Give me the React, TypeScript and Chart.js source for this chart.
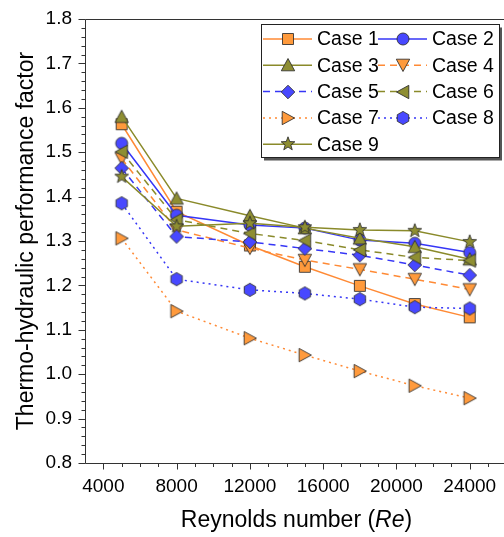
import React, { useEffect, useRef } from "react";
import { Chart, registerables } from "chart.js";

Chart.register(...registerables);

// ---------- data ----------
const reynolds = [5000, 8000, 12000, 15000, 18000, 21000, 24000];
const case1 = [1.563, 1.366, 1.29, 1.242, 1.199, 1.158, 1.128];
const case2 = [1.52, 1.358, 1.336, 1.329, 1.302, 1.295, 1.274];
const case3 = [1.58, 1.396, 1.357, 1.329, 1.306, 1.287, 1.259];
const case4 = [1.486, 1.325, 1.284, 1.257, 1.236, 1.214, 1.191];
const case5 = [1.464, 1.31, 1.298, 1.283, 1.268, 1.246, 1.223];
const case6 = [1.501, 1.348, 1.317, 1.301, 1.28, 1.263, 1.256];
const case7 = [1.306, 1.142, 1.081, 1.043, 1.007, 0.974, 0.946];
const case8 = [1.385, 1.214, 1.19, 1.182, 1.169, 1.151, 1.148];
const case9 = [1.445, 1.333, 1.34, 1.331, 1.325, 1.323, 1.298];

const seriesNames = ["Case 1", "Case 2", "Case 3", "Case 4", "Case 5", "Case 6", "Case 7", "Case 8", "Case 9"];
const seriesValues = [case1, case2, case3, case4, case5, case6, case7, case8, case9];

const xTickValues = [4000, 8000, 12000, 16000, 20000, 24000];
const yTickValues = [0.8, 0.9, 1.0, 1.1, 1.2, 1.3, 1.4, 1.5, 1.6, 1.7, 1.8];
const xTitleParts = ["Reynolds number (", "Re", ")"];
const yTitle = "Thermo-hydraulic performance factor";

// ---------- styles ----------
const FONT = '"Liberation Sans", Arial, Helvetica, sans-serif';
const ORANGE_LINE = "#ff8a35";
const ORANGE_FILL = "#ff9a3c";
const BLUE_LINE = "#3636f6";
const BLUE_FILL = "#4848ff";
const OLIVE_LINE = "#8a8a2a";
const OLIVE_FILL = "#8e8e32";
const SOLID: number[] = [];
const DASHED = [7, 5];
const DOTTED = [2, 4];

const seriesStyles = [
  { line: ORANGE_LINE, fill: ORANGE_FILL, dash: SOLID, shape: "square" },
  { line: BLUE_LINE, fill: BLUE_FILL, dash: SOLID, shape: "circle" },
  { line: OLIVE_LINE, fill: OLIVE_FILL, dash: SOLID, shape: "up" },
  { line: ORANGE_LINE, fill: ORANGE_FILL, dash: DASHED, shape: "down" },
  { line: BLUE_LINE, fill: BLUE_FILL, dash: DASHED, shape: "diamond" },
  { line: OLIVE_LINE, fill: OLIVE_FILL, dash: DASHED, shape: "left" },
  { line: ORANGE_LINE, fill: ORANGE_FILL, dash: DOTTED, shape: "right" },
  { line: BLUE_LINE, fill: BLUE_FILL, dash: DOTTED, shape: "hexagon" },
  { line: OLIVE_LINE, fill: OLIVE_FILL, dash: SOLID, shape: "star" },
];

function makeMarker(shape: string, fill: string): HTMLCanvasElement {
  const S = 18;
  const c = S / 2;
  const cv = document.createElement("canvas");
  cv.width = S;
  cv.height = S;
  const ctx = cv.getContext("2d")!;
  const poly = (pts: number[][]) => {
    ctx.moveTo(c + pts[0][0], c + pts[0][1]);
    for (let i = 1; i < pts.length; i++) ctx.lineTo(c + pts[i][0], c + pts[i][1]);
    ctx.closePath();
  };
  ctx.beginPath();
  switch (shape) {
    case "square":
      ctx.rect(c - 5.5, c - 5.5, 11, 11);
      break;
    case "circle":
      ctx.arc(c, c, 6, 0, Math.PI * 2);
      break;
    case "up":
      poly([[0, -6.5], [-6.7, 5.8], [6.7, 5.8]]);
      break;
    case "down":
      poly([[0, 6.5], [-6.7, -5.8], [6.7, -5.8]]);
      break;
    case "left":
      poly([[-6.5, 0], [5.8, -6.7], [5.8, 6.7]]);
      break;
    case "right":
      poly([[6.5, 0], [-5.8, -6.7], [-5.8, 6.7]]);
      break;
    case "diamond":
      poly([[0, -6.8], [6.8, 0], [0, 6.8], [-6.8, 0]]);
      break;
    case "hexagon": {
      const pts: number[][] = [];
      for (let k = 0; k < 6; k++) {
        const a = -Math.PI / 2 + (k * Math.PI) / 3;
        pts.push([6.6 * Math.cos(a), 6.6 * Math.sin(a)]);
      }
      poly(pts);
      break;
    }
    case "star": {
      const pts: number[][] = [];
      for (let k = 0; k < 10; k++) {
        const a = -Math.PI / 2 + (k * Math.PI) / 5;
        const r = k % 2 === 0 ? 7.2 : 3;
        pts.push([r * Math.cos(a), r * Math.sin(a)]);
      }
      poly(pts);
      break;
    }
  }
  ctx.fillStyle = fill;
  ctx.fill();
  ctx.lineWidth = 1;
  ctx.strokeStyle = "rgba(45,45,45,0.85)";
  ctx.stroke();
  return cv;
}

const decorPlugin = {
  id: "decor",
  afterDraw(chart: any) {
    const { ctx, chartArea } = chart;
    const xs = chart.scales.x;
    const ys = chart.scales.y;
    ctx.save();
    ctx.strokeStyle = "#333";
    ctx.lineWidth = 1;
    // frame: left, bottom, top
    ctx.beginPath();
    const L = Math.round(chartArea.left) + 0.5;
    const B = Math.round(chartArea.bottom) + 0.5;
    const T = Math.round(chartArea.top) + 0.5;
    ctx.moveTo(L, T);
    ctx.lineTo(L, B);
    ctx.lineTo(chartArea.right, B);
    ctx.moveTo(L, T);
    ctx.lineTo(chartArea.right, T);
    ctx.stroke();
    // x ticks
    ctx.beginPath();
    for (let v = 4000; v <= 25000; v += 1000) {
      const px = Math.round(xs.getPixelForValue(v)) + 0.5;
      const major = xTickValues.includes(v);
      ctx.moveTo(px, B);
      ctx.lineTo(px, B + (major ? 6 : 3.5));
    }
    // y ticks
    for (let i = 0; i <= 50; i++) {
      const v = 0.8 + i * 0.02;
      const py = Math.round(ys.getPixelForValue(v)) + 0.5;
      const major = i % 5 === 0;
      ctx.moveTo(L, py);
      ctx.lineTo(L - (major ? 7 : 4), py);
    }
    ctx.stroke();

    // axis titles
    ctx.fillStyle = "#000";
    ctx.font = `23px ${FONT}`;
    ctx.textBaseline = "middle";
    ctx.save();
    ctx.translate(27, 241);
    ctx.rotate(-Math.PI / 2);
    ctx.textAlign = "center";
    ctx.fillText(yTitle, 0, 0);
    ctx.restore();

    const fonts = [`23px ${FONT}`, `italic 23px ${FONT}`, `23px ${FONT}`];
    let total = 0;
    const widths = xTitleParts.map((p, i) => {
      ctx.font = fonts[i];
      const w = ctx.measureText(p).width;
      total += w;
      return w;
    });
    let x = 296.5 - total / 2;
    ctx.textAlign = "left";
    xTitleParts.forEach((p, i) => {
      ctx.font = fonts[i];
      ctx.fillText(p, x, 521);
      x += widths[i];
    });

    // legend
    const bx = 261, by = 24.5, bw = 238, bh = 133;
    ctx.fillStyle = "#555";
    ctx.fillRect(bx + 3, by + 3, bw, bh);
    ctx.fillStyle = "#fff";
    ctx.fillRect(bx, by, bw, bh);
    ctx.strokeStyle = "#222";
    ctx.lineWidth = 1;
    ctx.strokeRect(bx + 0.5, by, bw, bh);
    ctx.font = `19.5px ${FONT}`;
    ctx.textBaseline = "middle";
    chart.data.datasets.forEach((ds: any, i: number) => {
      const col = i % 2;
      const row = Math.floor(i / 2);
      const y = 39 + row * 26.3;
      const x0 = col === 0 ? 263 : 378;
      ctx.save();
      ctx.strokeStyle = ds.borderColor;
      ctx.lineWidth = 1.5;
      ctx.setLineDash(ds.borderDash || []);
      ctx.beginPath();
      ctx.moveTo(x0, y);
      ctx.lineTo(x0 + 49, y);
      ctx.stroke();
      ctx.restore();
      const img = ds.pointStyle as HTMLCanvasElement;
      ctx.drawImage(img, Math.round(x0 + 24.5 - img.width / 2), Math.round(y - img.height / 2));
      ctx.fillStyle = "#000";
      ctx.fillText(ds.label, x0 + 54, y + 1);
    });
    ctx.restore();
  },
};

export default function App() {
  const ref = useRef<HTMLCanvasElement | null>(null);
  useEffect(() => {
    if (!ref.current) return;
    const datasets = seriesNames.map((name, i) => {
      const st = seriesStyles[i];
      const marker = makeMarker(st.shape, st.fill);
      return {
        label: name,
        data: reynolds.map((r, j) => ({ x: r, y: seriesValues[i][j] })),
        borderColor: st.line,
        backgroundColor: st.fill,
        borderWidth: 1.5,
        borderDash: st.dash,
        pointStyle: marker,
        pointRadius: 7,
        pointHoverRadius: 7,
        showLine: true,
        fill: false,
        tension: 0,
        order: 9 - i,
      };
    });
    const chart = new Chart(ref.current, {
      type: "scatter",
      data: { datasets },
      plugins: [decorPlugin],
      options: {
        responsive: false,
        animation: false,
        devicePixelRatio: 1,
        layout: { autoPadding: false, padding: { top: 19, left: 0, right: 0, bottom: 0 } },
        plugins: { legend: { display: false }, tooltip: { enabled: false } },
        scales: {
          x: {
            type: "linear",
            min: 3000,
            max: 25870,
            grid: { display: false, drawTicks: false },
            border: { display: false },
            afterBuildTicks: (scale: any) => {
              scale.ticks = xTickValues.map((v) => ({ value: v }));
            },
            afterFit: (scale: any) => {
              scale.height = 74;
              scale.paddingLeft = 0;
              scale.paddingRight = 0;
            },
            ticks: {
              padding: 12,
              maxRotation: 0,
              autoSkip: false,
              color: "#000",
              font: { family: FONT, size: 19 },
              callback: (v: any) => String(v),
            },
          },
          y: {
            type: "linear",
            min: 0.8,
            max: 1.8,
            grid: { display: false, drawTicks: false },
            border: { display: false },
            afterBuildTicks: (scale: any) => {
              scale.ticks = yTickValues.map((v) => ({ value: v }));
            },
            afterFit: (scale: any) => {
              scale.width = 85;
              scale.paddingTop = 0;
              scale.paddingBottom = 0;
            },
            ticks: {
              padding: 13,
              autoSkip: false,
              color: "#000",
              font: { family: FONT, size: 19 },
              callback: (v: any) => Number(v).toFixed(1),
            },
          },
        },
      },
    });
    return () => chart.destroy();
  }, []);
  return (
    <div style={{ position: "fixed", left: 0, top: 0, width: 504, height: 537, background: "#fff" }}>
      <canvas ref={ref} width={504} height={537} style={{ display: "block" }} />
    </div>
  );
}
